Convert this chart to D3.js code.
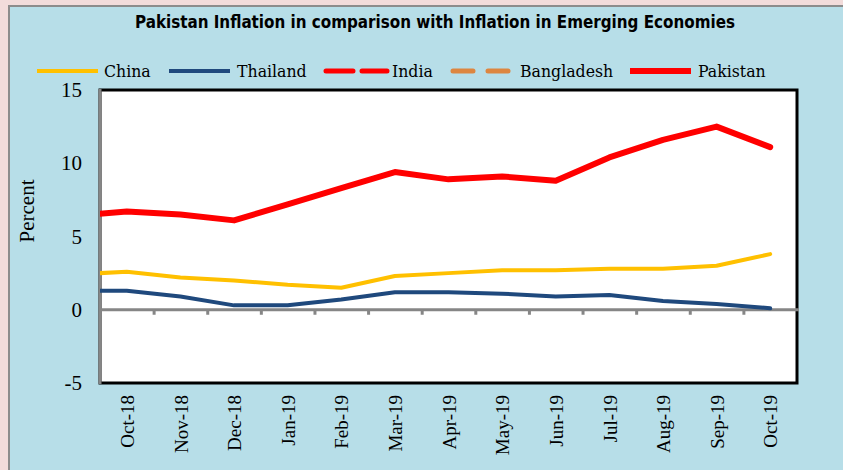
<!DOCTYPE html>
<html lang="en">
<head>
<meta charset="UTF-8" />
<title>Pakistan Inflation</title>
<script src="https://cdn.jsdelivr.net/npm/d3@7"></script>
<style>
  body { margin: 0; background: #f2dcdb; }
  svg { display: block; }
  .ylab text, .xlab text { font-family: "Liberation Serif", "DejaVu Serif", serif; fill: #000; }
</style>
</head>
<body>
<script>
// first month sits left of the axis and only shows as the clipped start of each line
var months = ["Sep-18", "Oct-18", "Nov-18", "Dec-18", "Jan-19", "Feb-19", "Mar-19",
              "Apr-19", "May-19", "Jun-19", "Jul-19", "Aug-19", "Sep-19", "Oct-19"];

var china    = [2.4, 2.6, 2.2, 2.0, 1.7, 1.5, 2.3, 2.5, 2.7, 2.7, 2.8, 2.8, 3.0, 3.8];
var thailand = [1.3, 1.3, 0.9, 0.3, 0.3, 0.7, 1.2, 1.2, 1.1, 0.9, 1.0, 0.6, 0.4, 0.1];
var india    = [];
var bangladesh = [];
var pakistan = [6.4, 6.7, 6.5, 6.1, 7.2, 8.3, 9.4, 8.9, 9.1, 8.8, 10.4, 11.6, 12.5, 11.1];

var yTicks = [-5, 0, 5, 10, 15];

var series = [
  {name: "China", values: china, color: "#ffc000", w: 4, dash: null},
  {name: "Thailand", values: thailand, color: "#1f497d", w: 4, dash: null},
  {name: "India", values: india, color: "#ff0000", w: 5, dash: "27,9"},
  {name: "Bangladesh", values: bangladesh, color: "#dd8640", w: 5, dash: "20,15"},
  {name: "Pakistan", values: pakistan, color: "#ff0000", w: 6, dash: null}
];

var width = 843, height = 470;
var plot = {left: 100, top: 90, right: 797, bottom: 383};

var svg = d3.select("body").append("svg")
    .attr("width", width)
    .attr("height", height);

// outer panel
svg.append("rect")
   .attr("x", 9).attr("y", 6)
   .attr("width", width).attr("height", height)
   .style("fill", "#b7dee8")
   .style("stroke", "#8c8c8c")
   .style("stroke-width", 2);

svg.append("text")
   .attr("x", 435).attr("y", 28)
   .attr("text-anchor", "middle")
   .attr("textLength", 600)
   .attr("lengthAdjust", "spacingAndGlyphs")
   .style("font-family", "'Liberation Sans Narrow', 'DejaVu Sans Condensed', sans-serif")
   .style("font-weight", "bold")
   .style("font-size", "17px")
   .text("Pakistan Inflation in comparison with Inflation in Emerging Economies");

var x = d3.scaleLinear()
    .domain([0.5, months.length - 0.5])
    .range([plot.left, plot.right]);

var y = d3.scaleLinear()
    .domain([d3.min(yTicks), d3.max(yTicks)])
    .range([plot.bottom, plot.top]);

// plot area
svg.append("rect")
   .attr("x", plot.left).attr("y", plot.top)
   .attr("width", plot.right - plot.left)
   .attr("height", plot.bottom - plot.top)
   .style("fill", "#fff")
   .style("stroke", "#000")
   .style("stroke-width", 3);

svg.append("clipPath").attr("id", "clip")
   .append("rect")
   .attr("x", plot.left).attr("y", plot.top)
   .attr("width", plot.right - plot.left)
   .attr("height", plot.bottom - plot.top);

// vertical axis line
svg.append("line")
   .attr("x1", plot.left).attr("x2", plot.left)
   .attr("y1", plot.top - 1).attr("y2", plot.bottom + 1)
   .style("stroke", "#868686").style("stroke-width", 3);

var yAxis = d3.axisLeft(y).tickValues(yTicks).tickSize(0).tickPadding(18)
    .tickFormat(function(d) { return String(d); });
var gy = svg.append("g")
    .attr("class", "ylab")
    .attr("transform", "translate(" + plot.left + ",0)")
    .call(yAxis);
gy.select(".domain").remove();
gy.selectAll("text").style("font-size", "21px");

svg.append("text")
   .attr("class", "ylab")
   .attr("transform", "translate(34,211) rotate(-90)")
   .attr("text-anchor", "middle")
   .style("font-family", "'Liberation Serif', serif")
   .style("font-size", "21px")
   .text("Percent");

// zero line with ticks between months
var boundaries = d3.range(1.5, months.length - 1, 1);
var gx = svg.append("g")
    .attr("transform", "translate(0," + y(0) + ")")
    .call(d3.axisBottom(x).tickValues(boundaries).tickSize(5).tickFormat("").tickSizeOuter(0));
gx.select(".domain").style("stroke", "#868686").style("stroke-width", 3)
  .attr("d", "M" + plot.left + ",0H" + (plot.right + 2));
gx.selectAll(".tick line").style("stroke", "#868686").style("stroke-width", 3);

// month labels under the plot
var labelAxis = d3.axisBottom(x)
    .tickValues(d3.range(1, months.length))
    .tickFormat(function(i) { return months[i]; })
    .tickSize(0);
var gl = svg.append("g")
    .attr("class", "xlab")
    .attr("transform", "translate(0," + plot.bottom + ")")
    .call(labelAxis);
gl.select(".domain").remove();
gl.selectAll("text")
  .style("font-size", "19px")
  .attr("text-anchor", "end")
  .attr("transform", "rotate(-90)")
  .attr("x", -12)
  .attr("y", 0)
  .attr("dy", "0.35em")
  .attr("dx", 0);

var line = d3.line()
    .x(function(d, i) { return x(i); })
    .y(function(d) { return y(d); });

var lines = svg.append("g").attr("clip-path", "url(#clip)");
series.forEach(function(s) {
  if (!s.values.length) return;
  lines.append("path")
       .attr("d", line(s.values))
       .style("fill", "none")
       .style("stroke", s.color)
       .style("stroke-width", s.w)
       .style("stroke-linejoin", "round")
       .style("stroke-linecap", "round");
});

// legend
var legendX = [37, 169, 326, 453, 630];
var legendText = [104, 237, 392, 520, 698];
var lg = svg.append("g");
series.forEach(function(s, i) {
  lg.append("line")
    .attr("x1", legendX[i]).attr("x2", legendX[i] + 61)
    .attr("y1", 71).attr("y2", 71)
    .style("stroke", s.color)
    .style("stroke-width", s.w)
    .style("stroke-linecap", s.dash ? "round" : "butt")
    .style("stroke-dasharray", s.dash);
  lg.append("text")
    .attr("x", legendText[i]).attr("y", 77)
    .style("font-family", "'DejaVu Serif Condensed', 'Liberation Serif', serif")
    .style("font-size", "17.5px")
    .text(s.name);
});
</script>
</body>
</html>
